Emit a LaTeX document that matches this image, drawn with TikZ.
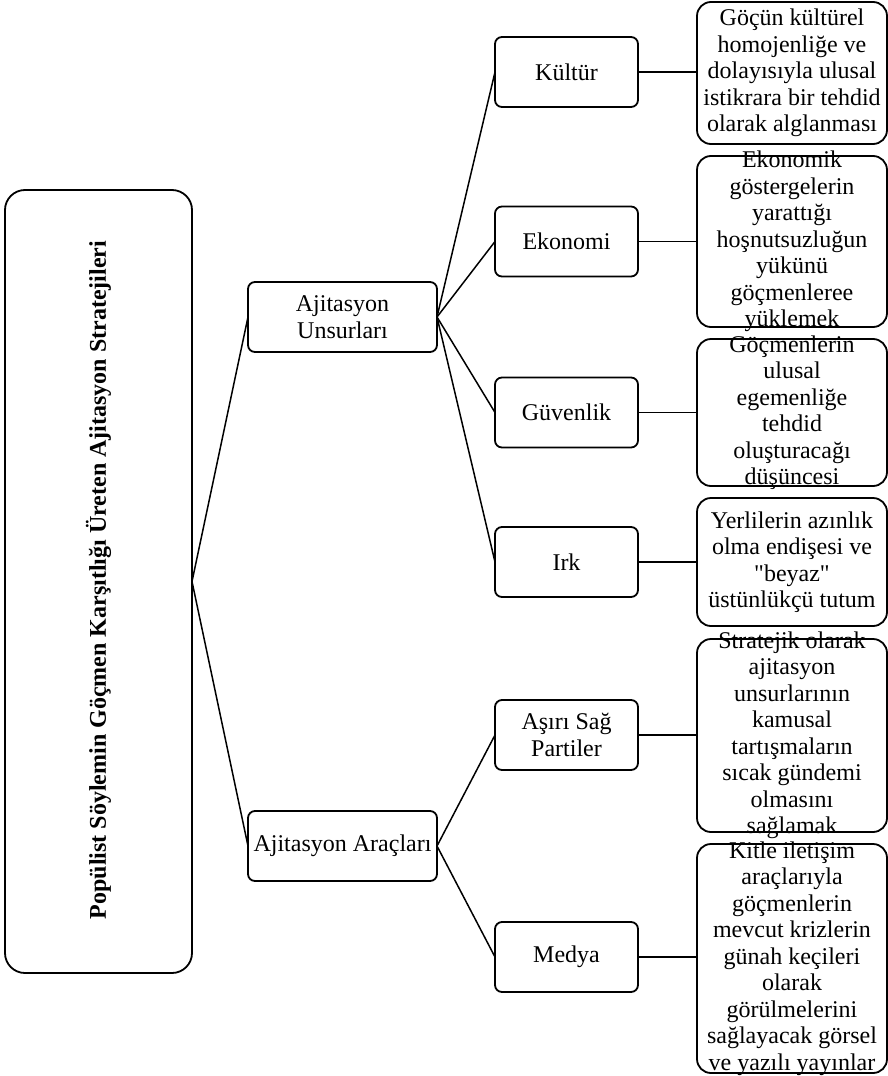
\documentclass[tikz,border=0pt]{standalone}
\usepackage{fontspec}
\setmainfont{Liberation Serif}
\newfontfamily\pq{Liberation Serif}
\begin{document}
\begin{tikzpicture}[x=1pt,y=-1pt,
  every node/.style={inner sep=0pt, outer sep=0pt},
  txt/.style={font=\fontsize{24}{26.5}\selectfont, align=center},
  mbox/.style={draw, line width=1.8pt, rounded corners=7pt, minimum width=189pt, minimum height=70pt, txt},
  sbox/.style={draw, line width=1.8pt, rounded corners=7pt, minimum width=143pt, minimum height=70pt, txt},
  lbox/.style={draw, line width=1.8pt, rounded corners=14pt, minimum width=190pt},
  conn/.style={line width=1.5pt}
]
\useasboundingbox (0,0) rectangle (888,1076);
% root
\node[draw, line width=1.8pt, rounded corners=20pt, minimum width=187pt, minimum height=783pt] (root) at (98.5,581.5) {};
\node[font=\fontsize{24}{26.5}\selectfont\bfseries, rotate=90] (roottxt) at (98.5,580) {Popülist Söylemin Göçmen Karşıtlığı Üreten Ajitasyon Stratejileri};
% level 2
\node[mbox] (un) at (342.5,317) {Ajitasyon\\Unsurları};
\node[mbox] (ar) at (342.5,846) {Ajitasyon Araçları};
% level 3
\node[sbox] (ku) at (566.5,72) {Kültür};
\node[sbox] (ek) at (566.5,241.5) {Ekonomi};
\node[sbox] (gu) at (566.5,412.5) {Güvenlik};
\node[sbox] (ir) at (566.5,562) {Irk};
\node[sbox] (as) at (566.5,735) {Aşırı Sağ\\Partiler};
\node[sbox] (me) at (566.5,957) {Medya};
% level 4
\node[lbox, minimum height=142pt, label={[txt]center:{Göçün kültürel\\homojenliğe ve\\dolayısıyla ulusal\\istikrara bir tehdid\\olarak alglanması}}] (d1) at (792,73) {};
\node[lbox, minimum height=171pt, label={[txt]center:{Ekonomik\\göstergelerin\\yarattığı\\hoşnutsuzluğun\\yükünü\\göçmenleree\\yüklemek}}] (d2) at (792,241.5) {};
\node[lbox, minimum height=147pt, label={[txt]center:{Göçmenlerin\\ulusal\\egemenliğe\\tehdid\\oluşturacağı\\düşüncesi}}] (d3) at (792,412.5) {};
\node[lbox, minimum height=128pt, label={[txt]center:{Yerlilerin azınlık\\olma endişesi ve\\{\pq"}beyaz{\pq"}\\üstünlükçü tutum}}] (d4) at (792,562) {};
\node[lbox, minimum height=193pt, label={[txt]center:{Stratejik olarak\\ajitasyon\\unsurlarının\\kamusal\\tartışmaların\\sıcak gündemi\\olmasını\\sağlamak}}] (d5) at (792,735.5) {};
\node[lbox, minimum height=229pt, label={[txt]center:{Kitle iletişim\\araçlarıyla\\göçmenlerin\\mevcut krizlerin\\günah keçileri\\olarak\\görülmelerini\\sağlayacak görsel\\ve yazılı yayınlar}}] (d6) at (792,958.5) {};
% connectors
\draw[conn] (root.east) -- (un.west);
\draw[conn] (root.east) -- (ar.west);
\foreach \t in {ku,ek,gu,ir} \draw[conn] (un.east) -- (\t.west);
\foreach \t in {as,me} \draw[conn] (ar.east) -- (\t.west);
\draw[conn] (ku.east) -- (ku.east -| d1.west);
\draw[conn] (ek.east) -- (ek.east -| d2.west);
\draw[conn] (gu.east) -- (gu.east -| d3.west);
\draw[conn] (ir.east) -- (ir.east -| d4.west);
\draw[conn] (as.east) -- (as.east -| d5.west);
\draw[conn] (me.east) -- (me.east -| d6.west);
\end{tikzpicture}
\end{document}
